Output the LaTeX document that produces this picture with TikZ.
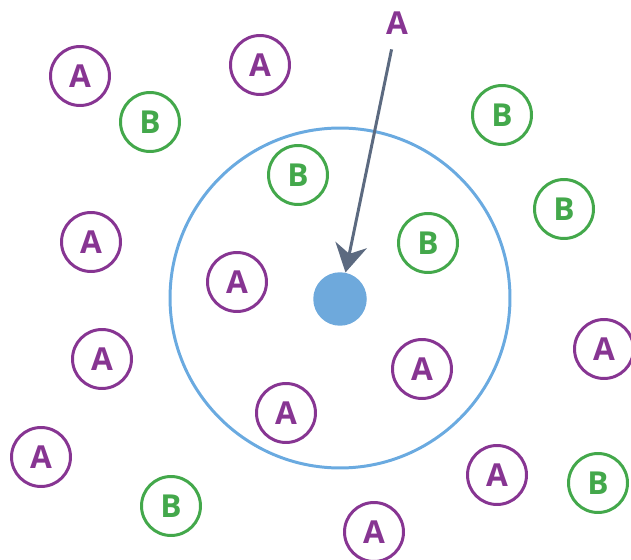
\documentclass[tikz,border=0pt]{standalone}
\usepackage{fontspec}
\setmainfont{Open Sans}
\usepackage{xcolor}
\usepackage{tikz}
\usetikzlibrary{arrows.meta,positioning}
\definecolor{apurple}{HTML}{873592}
\definecolor{bgreen}{HTML}{43A84B}
\definecolor{ringblue}{HTML}{6AAAE0}
\definecolor{dotblue}{HTML}{6EA9DC}
\definecolor{arrowgray}{HTML}{5C6A80}
\tikzset{
  acirc/.style={circle,draw=apurple,line width=1.7pt,text=apurple,minimum size=1.18cm,inner sep=0pt,font=\fontsize{18}{18}\selectfont\bfseries},
  bcirc/.style={circle,draw=bgreen,line width=1.7pt,text=bgreen,minimum size=1.18cm,inner sep=0pt,font=\fontsize{18}{18}\selectfont\bfseries},
  ring/.style={circle,draw=ringblue,line width=1.7pt,minimum size=6.8cm,inner sep=0pt},
  target/.style={circle,fill=dotblue,minimum size=1.07cm,inner sep=0pt},
  label/.style={text=apurple,font=\fontsize{18}{18}\selectfont\bfseries},
  arrow/.style={-{Stealth[length=5.6mm,width=6.4mm,inset=1.8mm]},line width=1.7pt,draw=arrowgray}
}

\begin{document}
\begin{tikzpicture}[x=0.02cm,y=-0.02cm]
  \path[use as bounding box,clip] (0,0) rectangle (631,560);

  \node[ring] (zone) at (340,298) {};
  \node[target] (query) at (340,299) {};

  \node[acirc] (a1) at (80,76) {A};
  \node[acirc] (a2) at (260,65) {A};
  \node[acirc] (a3) at (91,242) {A};
  \node[acirc] (a4) at (237,282) {A};
  \node[acirc] (a5) at (102,359) {A};
  \node[acirc] (a6) at (422,369) {A};
  \node[acirc] (a7) at (286,413) {A};
  \node[acirc] (a8) at (41,457) {A};
  \node[acirc] (a9) at (497,475) {A};
  \node[acirc] (a10) at (374,532) {A};
  \node[acirc] (a11) at (604,349) {A};

  \node[bcirc] (b1) at (150,122) {B};
  \node[bcirc] (b2) at (502,115) {B};
  \node[bcirc] (b3) at (298,175) {B};
  \node[bcirc] (b4) at (428,243) {B};
  \node[bcirc] (b5) at (564,209) {B};
  \node[bcirc] (b6) at (171,506) {B};
  \node[bcirc] (b7) at (598,483) {B};

  \node[label] (newpt) at (397,23) {A};

  \draw[arrow,shorten <=0.18cm] (newpt) -- (query);
\end{tikzpicture}
\end{document}
